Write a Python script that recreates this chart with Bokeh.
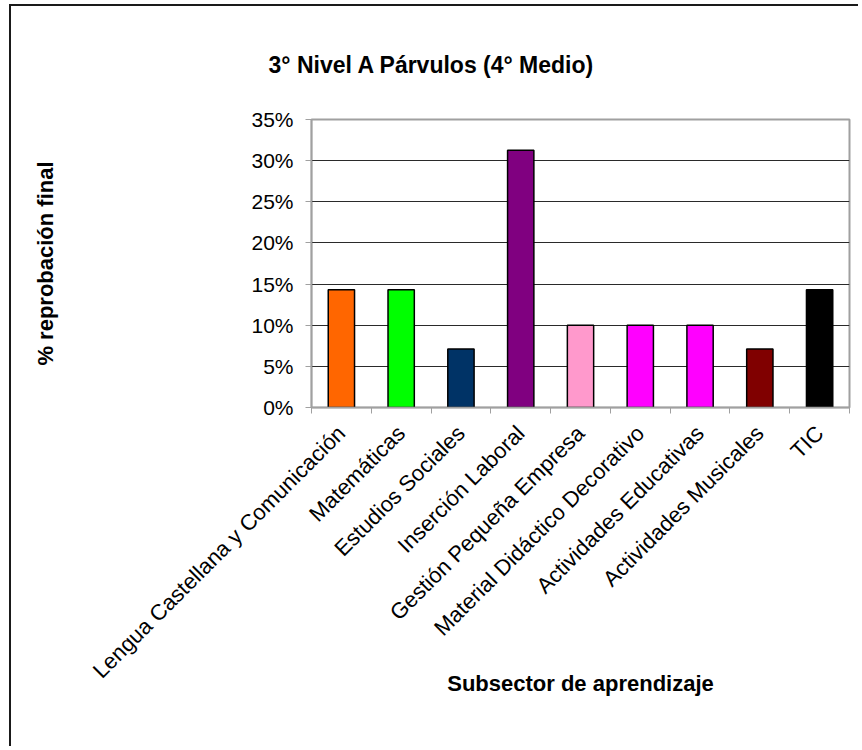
from bokeh.plotting import figure
from bokeh.models import Range1d, FixedTicker, NumeralTickFormatter, Title, ColumnDataSource
from bokeh.embed import file_html
from bokeh.resources import INLINE
import math

categories = ["Lengua Castellana y Comunicación", "Matemáticas", "Estudios Sociales",
              "Inserción Laboral", "Gestión Pequeña Empresa", "Material Didáctico Decorativo",
              "Actividades Educativas", "Actividades Musicales", "TIC"]
values = [0.143, 0.143, 0.071, 0.3125, 0.10, 0.10, 0.10, 0.071, 0.143]
colors = ["#FF6600", "#00FF00", "#003366", "#800080", "#FF99CC", "#FF00FF", "#FF00FF", "#800000", "#000000"]
y_ticks = [0, 0.05, 0.10, 0.15, 0.20, 0.25, 0.30, 0.35]

FONT = "Liberation Sans"
n = len(categories)
centers = [i + 0.5 for i in range(n)]

src = ColumnDataSource(dict(x=centers, top=values, color=colors))

p = figure(width=849, height=742, output_backend="svg", toolbar_location=None,
           x_range=Range1d(0, n), y_range=Range1d(0, 0.35),
           min_border_left=300, min_border_right=11, min_border_top=113, min_border_bottom=341)
p.styles = {"margin-left": "9px", "margin-top": "4px",
            "border-top": "2px solid #1a1a1a", "border-left": "2px solid #1a1a1a"}

p.vbar(x="x", top="top", width=0.44, bottom=0, fill_color="color", line_color="black",
       line_width=1.5, source=src)

title = Title(text="3° Nivel A Párvulos (4° Medio)", align="left", offset=-43,
              standoff=83, text_font=FONT, text_font_size="23px", text_font_style="bold",
              text_color="black")
p.add_layout(title, "above")

p.outline_line_color = "#a0a0a0"
p.outline_line_width = 2

# grid
p.xgrid.grid_line_color = None
p.ygrid.ticker = FixedTicker(ticks=y_ticks)
p.ygrid.grid_line_color = "#2a2a2a"
p.ygrid.grid_line_width = 1

# y axis
ya = p.yaxis[0]
ya.ticker = FixedTicker(ticks=y_ticks)
ya.formatter = NumeralTickFormatter(format="0%")
ya.axis_line_color = "#a0a0a0"
ya.axis_line_width = 1.5
ya.major_tick_line_color = "#a0a0a0"
ya.major_tick_out = 6
ya.major_tick_in = 0
ya.minor_tick_line_color = None
ya.major_label_text_font = FONT
ya.major_label_text_font_size = "21px"
ya.major_label_text_color = "black"
ya.major_label_standoff = 12
ya.axis_label = "% reprobación final"
ya.axis_label_text_font = FONT
ya.axis_label_text_font_size = "22px"
ya.axis_label_text_font_style = "bold"
ya.axis_label_text_color = "black"
ya.axis_label_standoff = 190

# x axis
xa = p.xaxis[0]
xa.ticker = FixedTicker(ticks=centers, minor_ticks=list(range(n + 1)))
xa.major_label_overrides = {c: categories[i] for i, c in enumerate(centers)}
xa.major_label_orientation = math.pi / 4
xa.major_tick_line_color = None
xa.minor_tick_line_color = "#a0a0a0"
xa.minor_tick_out = 6
xa.minor_tick_in = 0
xa.axis_line_color = "#a0a0a0"
xa.axis_line_width = 1.5
xa.major_label_text_font = FONT
xa.major_label_text_font_size = "22px"
xa.major_label_text_color = "black"
xa.major_label_standoff = 16
xa.axis_label = "Subsector de aprendizaje"
xa.axis_label_text_font = FONT
xa.axis_label_text_font_size = "22px"
xa.axis_label_text_font_style = "bold"
xa.axis_label_text_color = "black"
xa.axis_label_standoff = -24

open("out.html", "w").write(file_html(p, INLINE))
